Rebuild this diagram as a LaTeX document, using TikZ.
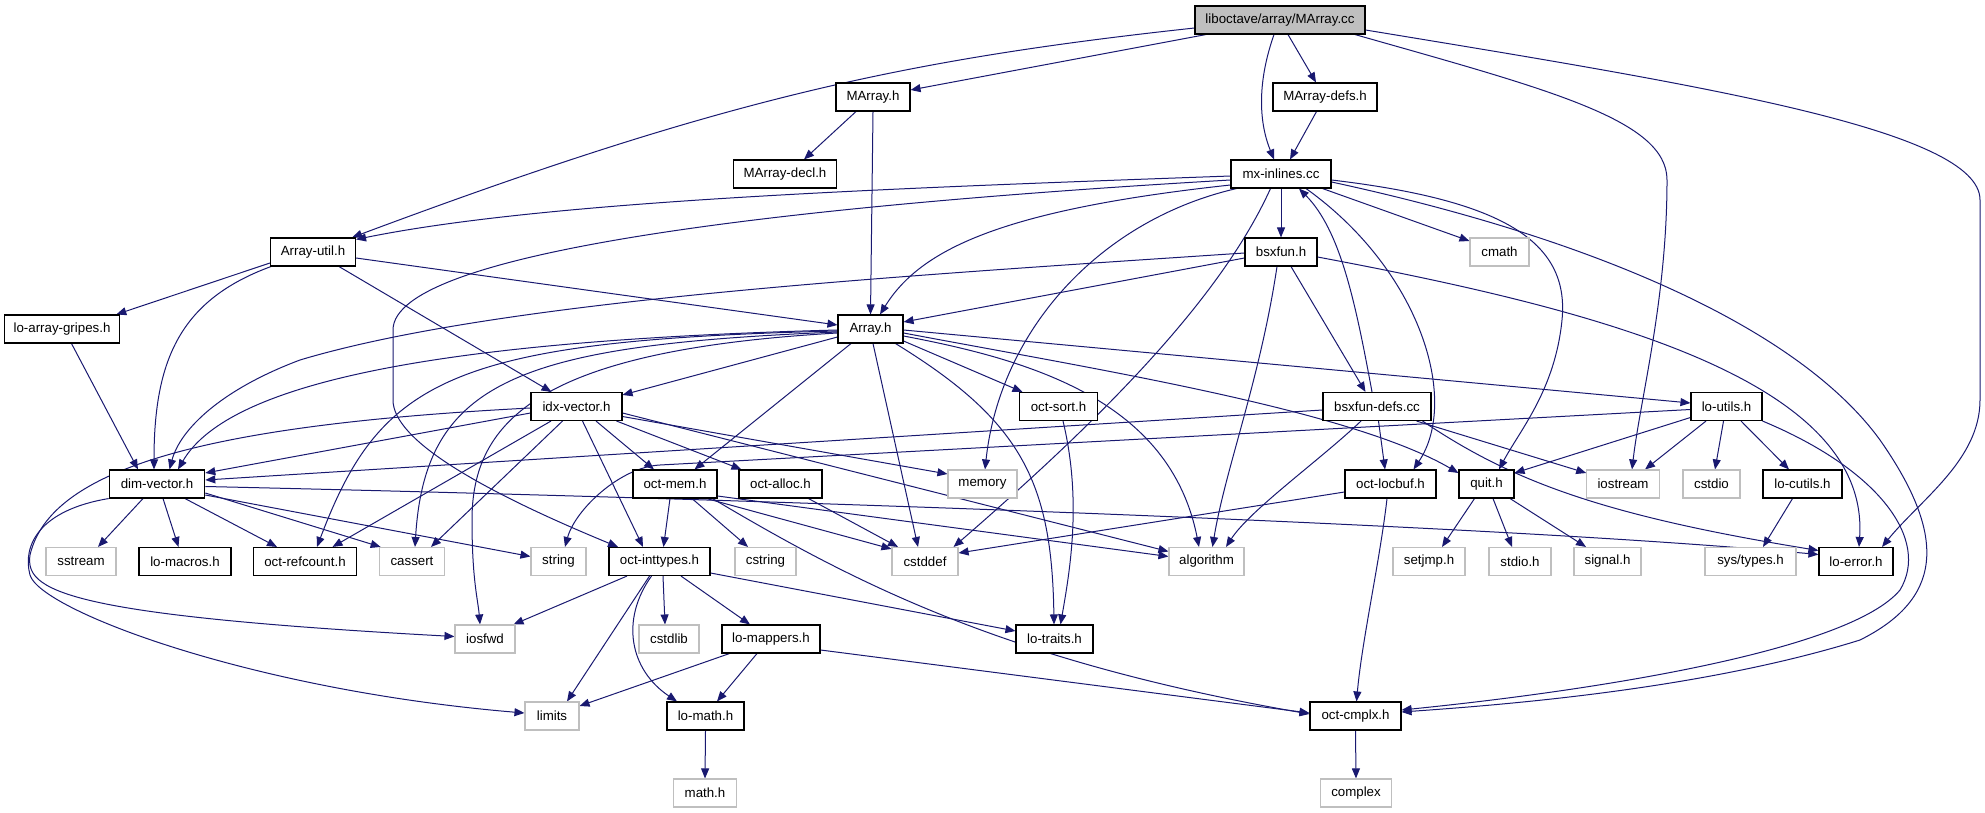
\documentclass[tikz,border=0pt]{standalone}
\usepackage{fontspec}
\setmainfont{Liberation Sans}
\usetikzlibrary{arrows.meta}
\definecolor{edgec}{HTML}{191970}
\definecolor{grayseven}{HTML}{BFBFBF}
\pgfdeclarelayer{bg}
\pgfsetlayers{bg,main}
\tikzset{
  nb/.style={draw=black, line width=1.1pt, fill=white, minimum height=28pt, inner sep=0pt, font=\fontsize{13.3}{16}\selectfont},
  ng/.style={nb, draw=grayseven},
  nt/.style={nb, fill=grayseven},
  e/.style={draw=edgec, line width=1pt, -{Triangle[length=10pt,width=8pt]}},
}
\begin{document}
\begin{tikzpicture}[x=1pt,y=-1pt]
\useasboundingbox (0,0) rectangle (1985,813);
% row 0
\node[nt, minimum width=170pt] (marraycc) at (1280,20) {liboctave/array/MArray.cc};
% row 1
\node[nb, minimum width=74pt] (marrayh) at (873,97) {MArray.h};
\node[nb, minimum width=104pt] (marraydefs) at (1325,97) {MArray-defs.h};
% row 2
\node[nb, minimum width=103pt] (marraydecl) at (785,174) {MArray-decl.h};
\node[nb, minimum width=100pt] (mxinlines) at (1281,174) {mx-inlines.cc};
% row 3
\node[nb, minimum width=85pt] (arrayutil) at (313,252) {Array-util.h};
\node[nb, minimum width=72pt] (bsxfun) at (1281,252) {bsxfun.h};
\node[ng, minimum width=59pt] (cmath) at (1499.5,252) {cmath};
% row 4
\node[nb, minimum width=115.5pt] (gripes) at (62,329) {lo-array-gripes.h};
\node[nb, minimum width=65pt] (arrayh) at (870.5,329) {Array.h};
% row 5
\node[nb, minimum width=91pt] (idxvector) at (576.5,406.5) {idx-vector.h};
\node[nb, minimum width=78pt] (octsort) at (1058.5,406.5) {oct-sort.h};
\node[nb, minimum width=108pt] (bsxfundefs) at (1377,406.5) {bsxfun-defs.cc};
\node[nb, minimum width=71pt] (loutils) at (1726.5,406.5) {lo-utils.h};
% row 6
\node[nb, minimum width=95.5pt] (dimvector) at (157,484) {dim-vector.h};
\node[nb, minimum width=84pt] (octmem) at (675,484) {oct-mem.h};
\node[nb, minimum width=83pt] (octalloc) at (780.5,484) {oct-alloc.h};
\node[ng, minimum width=69pt] (memory) at (982.5,484) {memory};
\node[nb, minimum width=91pt] (octlocbuf) at (1390.5,484) {oct-locbuf.h};
\node[nb, minimum width=55pt] (quit) at (1486.5,484) {quit.h};
\node[ng, minimum width=72.5pt] (iostream) at (1623,484) {iostream};
\node[ng, minimum width=57pt] (cstdio) at (1711.5,484) {cstdio};
\node[nb, minimum width=79pt] (locutils) at (1802.5,484) {lo-cutils.h};
% row 7
\node[ng, minimum width=70pt] (sstream) at (81,561.5) {sstream};
\node[nb, minimum width=92pt] (lomacros) at (185,561.5) {lo-macros.h};
\node[nb, minimum width=103pt] (octrefcount) at (305,561.5) {oct-refcount.h};
\node[ng, minimum width=65.6pt] (cassert) at (412,561.5) {cassert};
\node[ng, minimum width=55pt] (string) at (558.5,561.5) {string};
\node[nb, minimum width=101pt] (octinttypes) at (659.5,561.5) {oct-inttypes.h};
\node[ng, minimum width=61pt] (cstring) at (765.5,561.5) {cstring};
\node[ng, minimum width=66pt] (cstddef) at (925,561.5) {cstddef};
\node[ng, minimum width=75pt] (algorithm) at (1206.5,561.5) {algorithm};
\node[ng, minimum width=72pt] (setjmp) at (1429,561.5) {setjmp.h};
\node[ng, minimum width=62pt] (stdio) at (1520,561.5) {stdio.h};
\node[ng, minimum width=67pt] (signal) at (1607.5,561.5) {signal.h};
\node[ng, minimum width=91pt] (systypes) at (1750.5,561.5) {sys/types.h};
\node[nb, minimum width=74pt] (loerror) at (1856,561.5) {lo-error.h};
% row 8
\node[ng, minimum width=60pt] (iosfwd) at (485,639) {iosfwd};
\node[ng, minimum width=60pt] (cstdlib) at (669,639) {cstdlib};
\node[nb, minimum width=98pt] (lomappers) at (771,639) {lo-mappers.h};
\node[nb, minimum width=77pt] (lotraits) at (1054.5,639) {lo-traits.h};
% row 9
\node[ng, minimum width=54pt] (limits) at (552,716) {limits};
\node[nb, minimum width=77pt] (lomath) at (705.5,716) {lo-math.h};
\node[nb, minimum width=91pt] (octcmplx) at (1355.5,716) {oct-cmplx.h};
% row 10
\node[ng, minimum width=63pt] (mathh) at (705,793) {math.h};
\node[ng, minimum width=70.5pt] (complex) at (1356,793) {complex};

\begin{pgfonlayer}{bg}
% MArray.cc
\draw[e] ([yshift=-8pt]marraycc.west) .. controls (900,60) and (720,100) .. ([xshift=-4pt]arrayutil.north east);
\draw[e] ([xshift=-74pt]marraycc.south) -- ([yshift=7pt]marrayh.east);
\draw[e] ([xshift=-6pt]marraycc.south) .. controls (1258,80) and (1258,120) .. ([xshift=-7pt]mxinlines.north);
\draw[e] ([xshift=8pt]marraycc.south) -- ([xshift=-9pt]marraydefs.north);
\draw[e] ([xshift=75pt]marraycc.south) .. controls (1550,90) and (1667,120) .. (1667,180) .. controls (1667,300) and (1640,400) .. ([xshift=9pt]iostream.north);
\draw[e] ([yshift=-10pt]marraycc.east) .. controls (1700,85) and (1980,130) .. (1980,200) -- (1980,400) .. controls (1980,460) and (1920,500) .. ([xshift=26pt]loerror.north);
% MArray.h, MArray-defs.h
\draw[e] ([xshift=-17pt]marrayh.south) -- ([xshift=19pt]marraydecl.north);
\draw[e] (marrayh.south) -- (arrayh.north);
\draw[e] ([xshift=-8.5pt]marraydefs.south) -- ([xshift=9pt]mxinlines.north);
% mx-inlines.cc
\draw[e] ([yshift=-2pt]mxinlines.west) .. controls (900,188) and (550,200) .. ([yshift=-2pt]arrayutil.north east);
\draw[e] ([yshift=-11pt]mxinlines.west) .. controls (1000,210) and (920,250) .. ([xshift=9.5pt]arrayh.north);
\draw[e] ([yshift=-6pt]mxinlines.west) .. controls (800,205) and (393,250) .. (393,330) -- (393,400) .. controls (393,440) and (480,490) .. ([xshift=-41.5pt]octinttypes.north);
\draw[e] ([xshift=6pt]mxinlines.south west) .. controls (1100,220) and (1000,330) .. ([xshift=2.5pt]memory.north);
\draw[e] ([xshift=-10.5pt]mxinlines.south) .. controls (1220,300) and (1100,420) .. ([xshift=-5pt]cstddef.north east);
\draw[e] (mxinlines.south) -- (bsxfun.north);
\draw[e] ([xshift=25pt]mxinlines.south) .. controls (1420,270) and (1460,400) .. ([xshift=23pt]octlocbuf.north);
\draw[e] ([xshift=-9pt]mxinlines.south east) -- ([yshift=11pt]cmath.west);
\draw[e] ([yshift=-6pt]mxinlines.east) .. controls (1500,200) and (1570,240) .. (1562,320) .. controls (1555,390) and (1520,430) .. ([xshift=12.5pt]quit.north);
\draw[e] ([yshift=-8pt]mxinlines.east) .. controls (1600,240) and (1800,330) .. (1880,440) .. controls (1950,540) and (1940,600) .. (1860,640) .. controls (1700,690) and (1500,705) .. ([yshift=4pt]octcmplx.east);
% Array-util.h
\draw[e] ([yshift=-11pt]arrayutil.west) -- ([xshift=-4pt]gripes.north east);
\draw[e] ([xshift=1pt]arrayutil.south west) .. controls (180,300) and (154,360) .. ([xshift=-3pt]dimvector.north);
\draw[e] ([xshift=26pt]arrayutil.south) -- ([xshift=-25pt]idxvector.north);
\draw[e] ([yshift=-6pt]arrayutil.east) -- ([yshift=4pt]arrayh.west);
% bsxfun.h
\draw[e] ([yshift=-6pt]bsxfun.west) -- ([yshift=7pt]arrayh.east);
\draw[e] ([yshift=-1pt]bsxfun.west) .. controls (900,276) and (500,300) .. (300,360) .. controls (220,390) and (180,430) .. ([xshift=12.5pt]dimvector.north);
\draw[e] ([xshift=-4pt]bsxfun.south) .. controls (1260,380) and (1225,470) .. ([xshift=6pt]algorithm.north);
\draw[e] ([xshift=10pt]bsxfun.south) -- ([xshift=-11.5pt]bsxfundefs.north);
\draw[e] ([yshift=-5pt]bsxfun.east) .. controls (1600,310) and (1870,380) .. ([xshift=3pt]loerror.north);
% lo-array-gripes.h
\draw[e] ([xshift=9.5pt]gripes.south) -- ([xshift=-19pt]dimvector.north);
% Array.h
\draw[e] ([yshift=-8pt]arrayh.west) -- ([yshift=-3pt]idxvector.north east);
\draw[e] ([yshift=-1pt]arrayh.west) .. controls (450,340) and (230,380) .. ([xshift=21pt]dimvector.north);
\draw[e] ([yshift=-2pt]arrayh.west) .. controls (450,340) and (380,380) .. ([xshift=12pt]octrefcount.north);
\draw[e] ([yshift=-3pt]arrayh.west) .. controls (520,345) and (425,380) .. ([xshift=3pt]cassert.north);
\draw[e] ([yshift=-4pt]arrayh.west) .. controls (540,350) and (472,420) .. (472,520) .. controls (472,580) and (478,600) .. ([xshift=-5pt]iosfwd.north);
\draw[e] ([xshift=-19.5pt]arrayh.south) -- ([xshift=19.5pt]octmem.north);
\draw[e] ([xshift=2.5pt]arrayh.south) -- ([xshift=-7pt]cstddef.north);
\draw[e] ([xshift=25pt]arrayh.south) .. controls (1020,420) and (1052,480) .. ([xshift=-0.5pt]lotraits.north);
\draw[e] ([yshift=-12pt]arrayh.east) -- ([xshift=3.5pt]octsort.north west);
\draw[e] ([yshift=-7pt]arrayh.east) .. controls (1030,360) and (1170,400) .. ([xshift=-7.5pt]algorithm.north);
\draw[e] ([yshift=-4pt]arrayh.east) .. controls (1100,370) and (1350,410) .. ([yshift=11pt]quit.west);
\draw[e] ([yshift=-1pt]arrayh.east) -- ([yshift=3.5pt]loutils.west);
% oct-sort.h
\draw[e] ([xshift=4.5pt]octsort.south) .. controls (1082,500) and (1070,570) .. ([xshift=6pt]lotraits.north);
% idx-vector.h
\draw[e] ([yshift=-1.5pt]idxvector.west) .. controls (200,425) and (50,470) .. (30,555) .. controls (25,590) and (60,615) .. ([yshift=2.5pt]iosfwd.west);
\draw[e] ([yshift=-6.5pt]idxvector.west) -- ([yshift=11pt]dimvector.east);
\draw[e] ([xshift=-25.5pt]idxvector.south) -- ([xshift=27.5pt]octrefcount.north);
\draw[e] ([xshift=-14pt]idxvector.south) -- ([xshift=19pt]cassert.north);
\draw[e] ([xshift=6pt]idxvector.south) -- ([xshift=-16.5pt]octinttypes.north);
\draw[e] ([xshift=19.5pt]idxvector.south) -- ([xshift=-21pt]octmem.north);
\draw[e] ([xshift=-6pt]idxvector.south east) -- ([xshift=3pt]octalloc.north west);
\draw[e] ([yshift=-10pt]idxvector.east) -- ([yshift=10pt]memory.west);
\draw[e] ([yshift=-6.5pt]idxvector.east) -- ([yshift=10pt]algorithm.west);
% bsxfun-defs.cc
\draw[e] ([xshift=-5pt]bsxfundefs.north) .. controls (1355,300) and (1340,230) .. ([xshift=18pt]mxinlines.south);
\draw[e] ([yshift=-3.5pt]bsxfundefs.west) -- ([yshift=4pt]dimvector.east);
\draw[e] ([xshift=1.5pt]bsxfundefs.south) -- ([xshift=-5.5pt]octlocbuf.north);
\draw[e] ([xshift=-16pt]bsxfundefs.south) .. controls (1320,460) and (1250,510) .. ([xshift=19.5pt]algorithm.north);
\draw[e] ([xshift=-15pt]bsxfundefs.south east) -- ([yshift=11pt]iostream.west);
\draw[e] ([xshift=-9pt]bsxfundefs.south east) .. controls (1510,480) and (1600,515) .. ([yshift=11pt]loerror.west);
% lo-utils.h
\draw[e] ([yshift=-3pt]loutils.west) -- (660,465) .. controls (620,467) and (575,510) .. ([xshift=6.5pt]string.north);
\draw[e] ([yshift=-11pt]loutils.west) -- ([yshift=11pt]quit.east);
\draw[e] ([xshift=-20.5pt]loutils.south) -- ([xshift=22pt]iostream.north);
\draw[e] ([xshift=-3pt]loutils.south) -- ([xshift=3.5pt]cstdio.north);
\draw[e] ([xshift=14.5pt]loutils.south) -- ([xshift=-13.5pt]locutils.north);
\draw[e] (loutils.south east) .. controls (1880,470) and (1930,540) .. (1900,590) .. controls (1850,650) and (1600,690) .. ([yshift=6pt]octcmplx.east);
% dim-vector.h
\draw[e] (dimvector.south west) .. controls (40,510) and (22,545) .. (30,575) .. controls (40,610) and (250,690) .. ([yshift=3pt]limits.west);
\draw[e] ([xshift=-14pt]dimvector.south) -- ([xshift=17pt]sstream.north);
\draw[e] ([xshift=6pt]dimvector.south) -- ([xshift=-6.5pt]lomacros.north);
\draw[e] ([xshift=28pt]dimvector.south) -- ([xshift=-28pt]octrefcount.north);
\draw[e] ([yshift=-9pt]dimvector.east) -- ([xshift=2pt]cassert.north west);
\draw[e] ([yshift=-11pt]dimvector.east) -- ([yshift=5pt]string.west);
\draw[e] ([yshift=-2.5pt]dimvector.east) .. controls (800,500) and (1500,525) .. ([yshift=7pt]loerror.west);
% oct-mem.h, oct-alloc.h
\draw[e] ([xshift=-5pt]octmem.south) -- ([xshift=4pt]octinttypes.north);
\draw[e] ([xshift=17pt]octmem.south) -- ([xshift=-17.5pt]cstring.north);
\draw[e] ([xshift=-11pt]octmem.south east) -- ([yshift=-2pt]cstddef.north west);
\draw[e] ([yshift=-12pt]octmem.east) -- ([yshift=5pt]algorithm.west);
\draw[e] ([xshift=-5pt]octmem.south east) .. controls (850,580) and (1000,660) .. ([yshift=2pt]octcmplx.west);
\draw[e] ([xshift=28pt]octalloc.south) -- ([xshift=-27pt]cstddef.north);
% oct-locbuf.h, quit.h, lo-cutils.h
\draw[e] ([yshift=-8pt]octlocbuf.west) -- ([yshift=8.5pt]cstddef.east);
\draw[e] ([xshift=-3.5pt]octlocbuf.south) .. controls (1380,560) and (1362,640) .. ([xshift=1pt]octcmplx.north);
\draw[e] ([xshift=-12pt]quit.south) -- ([xshift=13pt]setjmp.north);
\draw[e] ([xshift=6.5pt]quit.south) -- ([xshift=-8pt]stdio.north);
\draw[e] ([xshift=-4.5pt]quit.south east) -- ([xshift=-21.5pt]signal.north);
\draw[e] ([xshift=-10pt]locutils.south) -- ([xshift=12.5pt]systypes.north);
% oct-inttypes.h
\draw[e] ([xshift=-32.5pt]octinttypes.south) -- ([xshift=-2pt]iosfwd.north east);
\draw[e] ([xshift=-10pt]octinttypes.south) -- ([xshift=15pt]limits.north);
\draw[e] ([xshift=-8pt]octinttypes.south) .. controls (620,620) and (630,670) .. ([xshift=-28.5pt]lomath.north);
\draw[e] ([xshift=3.5pt]octinttypes.south) -- ([xshift=-4pt]cstdlib.north);
\draw[e] ([xshift=21.5pt]octinttypes.south) -- ([xshift=-21pt]lomappers.north);
\draw[e] ([yshift=-11.5pt]octinttypes.east) -- ([yshift=8pt]lotraits.west);
% lo-mappers.h, lo-math.h, oct-cmplx.h
\draw[e] ([xshift=8pt]lomappers.south west) -- ([yshift=10pt]limits.east);
\draw[e] ([xshift=-14pt]lomappers.south) -- ([xshift=11.5pt]lomath.north);
\draw[e] ([yshift=-11pt]lomappers.east) -- ([yshift=3pt]octcmplx.west);
\draw[e] (lomath.south) -- (mathh.north);
\draw[e] (octcmplx.south) -- (complex.north);
\end{pgfonlayer}
\end{tikzpicture}
\end{document}
